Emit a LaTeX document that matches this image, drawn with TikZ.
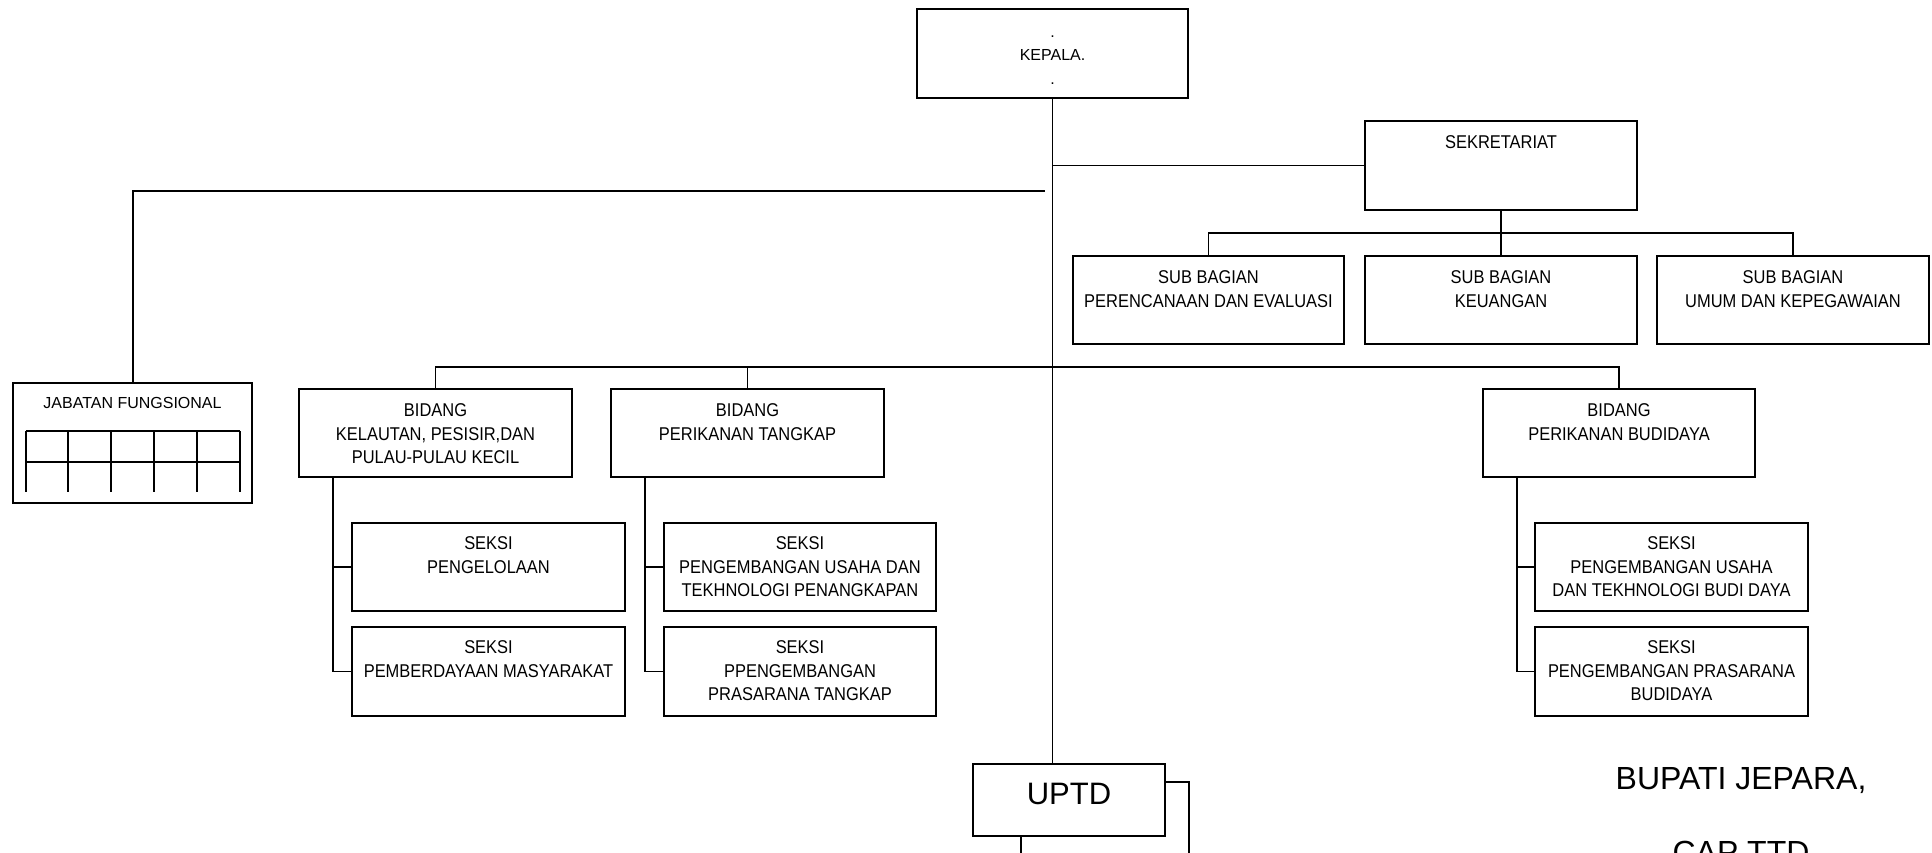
\documentclass[tikz,border=0pt]{standalone}
\usepackage{fontspec}
\setmainfont{Liberation Sans}
\newfontfamily\narrowsans[FakeStretch=0.89]{Liberation Sans}
\begin{document}
\begin{tikzpicture}[x=1pt,y=-1pt,
  box/.style={draw, rectangle, line width=1.3pt, inner sep=0pt, outer sep=0pt},
  unitbox/.style={box, minimum width=272pt, minimum height=88pt},
  wire/.style={line width=1.3pt},
  heavy/.style={line width=2pt},
  caption/.style={anchor=north, align=center, inner sep=0pt,
    font=\narrowsans\fontsize{18.5}{23.5}\selectfont},
  plain/.style={anchor=north, align=center, inner sep=0pt,
    font=\fontsize{16}{23.5}\selectfont},
  bigtext/.style={inner sep=0pt, font=\fontsize{32}{38}\selectfont},
]
\fill[white] (0,0) rectangle (1932,853);
\useasboundingbox (0,0) rectangle (1932,853);

% head of office
\node[box, minimum width=271pt, minimum height=89pt] (kepala) at (1052.5,53.5) {};
\node[plain] (kepalaT) at ([yshift=-17pt]kepala.north) {.\vphantom{K}\\KEPALA.\\.};

% secretariat and its sub-sections
\node[unitbox, minimum height=89pt] (sekr) at (1501,165.5) {};
\node[caption] (sekrT) at ([yshift=-14.4pt]sekr.north) {SEKRETARIAT};

\node[unitbox, minimum width=271pt] (sub1) at (1208.5,300) {};
\node[unitbox] (sub2) at (1501,300) {};
\node[unitbox] (sub3) at (1793,300) {};
\node[caption] (sub1T) at ([yshift=-14.4pt]sub1.north) {SUB BAGIAN\\PERENCANAAN DAN EVALUASI};
\node[caption] (sub2T) at ([yshift=-14.4pt]sub2.north) {SUB BAGIAN\\KEUANGAN};
\node[caption] (sub3T) at ([yshift=-14.4pt]sub3.north) {SUB BAGIAN\\UMUM DAN KEPEGAWAIAN};

% functional positions with their grid
\node[box, heavy, minimum width=239pt, minimum height=120pt] (jab) at (132.5,443) {};
\node[plain] (jabT) at ([yshift=-14.5pt]jab.north) {JABATAN FUNGSIONAL};
\draw[heavy] (26,431) -- (240,431) (26,462) -- (240,462);
\foreach \gx in {26,68,111,154,197,240} \draw[heavy] (\gx,431) -- (\gx,492);

% divisions
\node[unitbox, minimum width=273pt] (bid1) at (435.5,433) {};
\node[unitbox, minimum width=273pt] (bid2) at (747.5,433) {};
\node[unitbox] (bid3) at (1619,433) {};
\node[caption] (bid1T) at ([yshift=-14.4pt]bid1.north) {BIDANG\\KELAUTAN, PESISIR,DAN\\PULAU-PULAU KECIL};
\node[caption] (bid2T) at ([yshift=-14.4pt]bid2.north) {BIDANG\\PERIKANAN TANGKAP};
\node[caption] (bid3T) at ([yshift=-14.4pt]bid3.north) {BIDANG\\PERIKANAN BUDIDAYA};

% sections
\node[unitbox, minimum width=273pt] (s1a) at (488.5,567) {};
\node[unitbox, minimum width=273pt, minimum height=89pt] (s1b) at (488.5,671.5) {};
\node[unitbox] (s2a) at (800,567) {};
\node[unitbox, minimum height=89pt] (s2b) at (800,671.5) {};
\node[unitbox, minimum width=273pt] (s3a) at (1671.5,567) {};
\node[unitbox, minimum width=273pt, minimum height=89pt] (s3b) at (1671.5,671.5) {};
\node[caption] (s1aT) at ([yshift=-13.4pt]s1a.north) {SEKSI\\PENGELOLAAN};
\node[caption] (s1bT) at ([yshift=-13.4pt]s1b.north) {SEKSI\\PEMBERDAYAAN MASYARAKAT};
\node[caption] (s2aT) at ([yshift=-13.4pt]s2a.north) {SEKSI\\PENGEMBANGAN USAHA DAN\\TEKHNOLOGI PENANGKAPAN};
\node[caption] (s2bT) at ([yshift=-13.4pt]s2b.north) {SEKSI\\PPENGEMBANGAN\\PRASARANA TANGKAP};
\node[caption] (s3aT) at ([yshift=-13.4pt]s3a.north) {SEKSI\\PENGEMBANGAN USAHA\\DAN TEKHNOLOGI BUDI DAYA};
\node[caption] (s3bT) at ([yshift=-13.4pt]s3b.north) {SEKSI\\PENGEMBANGAN PRASARANA\\BUDIDAYA};

% technical unit
\node[box, line width=1.8pt, minimum width=192pt, minimum height=72pt] (uptd) at (1069,800) {};
\node[inner sep=0pt, font=\fontsize{31}{36}\selectfont] (uptdT) at (1069,794) {UPTD};

% signature block
\node[bigtext, anchor=base] (bupati) at (1741,789) {BUPATI JEPARA,};
\node[bigtext, anchor=base] (captd) at (1741,863) {CAP TTD};

% connectors
\draw[wire] (kepala.south) -- (kepala.south |- uptd.north);
\draw[wire] (kepala.south |- sekr.west) -- (sekr.west);

\coordinate (sbus) at (1501,233);
\draw[wire] (sekr.south) -- (sbus);
\draw[wire] (sub1.north) -- (sub1.north |- sbus) -- (sub3.north |- sbus) -- (sub3.north);
\draw[wire] (sub2.north) -- (sbus);

\coordinate (jend) at (1045,191);
\draw[heavy] (jab.north) |- (jend);

\coordinate (bbus) at (1053,367);
\draw[wire] (bid1.north) -- (bid1.north |- bbus) -- (bid3.north |- bbus) -- (bid3.north);
\draw[wire] (bid2.north) -- (bid2.north |- bbus);

\draw[wire] ([xshift=34pt]bid1.south west) coordinate (k1) |- (s1b.west);
\draw[wire] (k1 |- s1a.west) -- (s1a.west);
\draw[wire] ([xshift=34pt]bid2.south west) coordinate (k2) |- (s2b.west);
\draw[wire] (k2 |- s2a.west) -- (s2a.west);
\draw[wire] ([xshift=34pt]bid3.south west) coordinate (k3) |- (s3b.west);
\draw[wire] (k3 |- s3a.west) -- (s3a.west);

\coordinate (uright) at (1189,853);
\draw[wire] ([yshift=-18pt]uptd.north east) -| (uright);
\coordinate (ubot) at (1021,853);
\draw[wire] (uptd.south -| ubot) -- (ubot);
\end{tikzpicture}
\end{document}
